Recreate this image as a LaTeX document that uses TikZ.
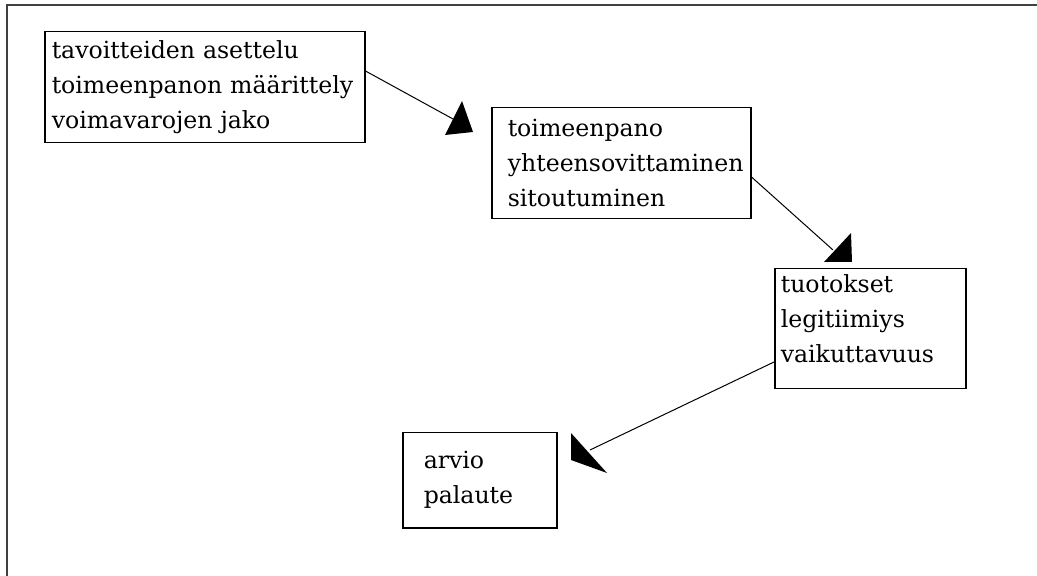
\documentclass[tikz,border=0pt]{standalone}
\usepackage{fontspec}
\setmainfont{DejaVu Serif}
\hyphenpenalty=10000
\begin{document}
\begin{tikzpicture}[
		x=0.5pt, y=-0.5pt,
		every node/.style={draw, rectangle, anchor=north west, align=left, line width=0.75pt, inner ysep=0pt, font=\fontsize{11.8}{17.5}\selectfont},
		link/.style={line width=0.5pt},
		head/.style={fill=black}
	]
		\useasboundingbox (0,0) rectangle (1037,576);
		\draw[line width=1pt, black!75] (7,576) -- (7,5) -- (1037,5);
		\node[minimum width=160pt, minimum height=55.5pt, inner xsep=3.5pt, text width=153pt] (tavoitteet) at (44,31) {tavoitteiden asettelu\\toimeenpanon määrittely\\voimavarojen jako};
		\node[minimum width=129.5pt, minimum height=55.5pt, inner xsep=8pt, text width=113.5pt] (toimeenpano) at (491,107) {toimeenpano\\yhteensovittaminen\\sitoutuminen};
		\node[minimum width=95.5pt, minimum height=60pt, inner xsep=3pt, text width=89.5pt, text depth=45pt] (tuotokset) at (774,268) {tuotokset\\legitiimiys\\vaikuttavuus};
		\node[minimum width=77pt, minimum height=47.5pt, inner xsep=10.5pt, text width=56pt] (arvio) at (402,432) {arvio\\palaute};
		\coordinate (k1) at (453,119);
		\coordinate (k2) at (833,250);
		\coordinate (k3) at (590,450);
		\draw[link] ([yshift=-20pt]tavoitteet.north east) -- (k1);
		\draw[link] ([yshift=-35pt]toimeenpano.north east) -- (k2);
		\draw[link] ([yshift=-47pt]tuotokset.north west) -- (k3);
		\fill[head] (462,101) -- (445,135) -- (473,132) -- cycle;
		\fill[head] (851,233) -- (824,262) -- (852,262) -- cycle;
		\fill[head] (571,433) -- (571,460) -- (607,473) -- cycle;
	\end{tikzpicture}
\end{document}
